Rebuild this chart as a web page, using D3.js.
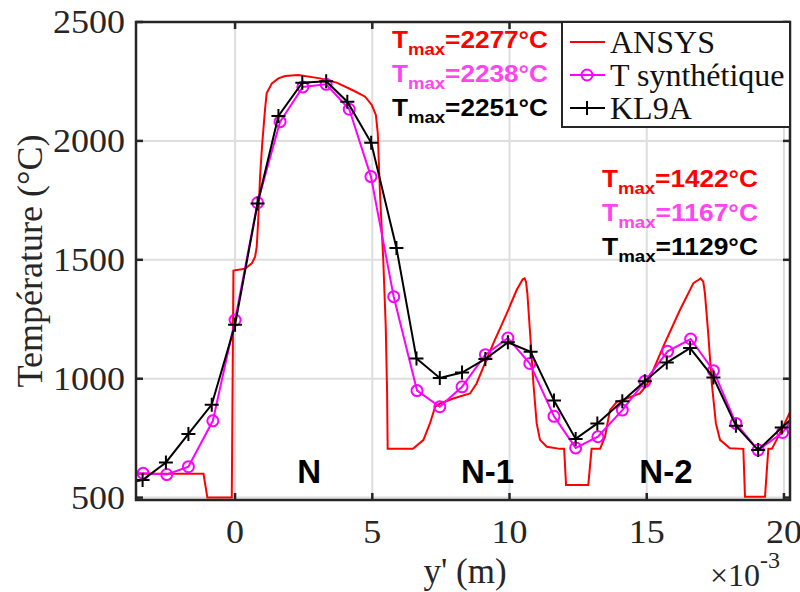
<!DOCTYPE html>
<html>
<head>
<meta charset="utf-8">
<script src="https://cdn.jsdelivr.net/npm/d3@7"></script>
<style>
body { margin: 0; background: #fff; }
</style>
</head>
<body>
<div id="chart"></div>
<script>
// tick values
var xTicks = [0, 5, 10, 15, 20];
var yTicks = [500, 1000, 1500, 2000, 2500];

// ANSYS (red)
var ansysX = [-3.7, -1.15, -1.01, -0.12, -0.06, 0.36, 0.61, 0.73, 0.79, 0.85, 0.91, 0.99, 1.09, 1.15, 1.34, 1.58, 1.82, 2.3, 3.10, 3.70,
  4.31, 4.74, 4.98, 5.13, 5.20, 5.28, 5.40, 5.49, 5.54, 5.56, 6.48, 6.86, 7.10, 7.29, 7.47, 7.95, 8.56, 8.80, 9.05, 9.41, 9.90,
  10.26, 10.48, 10.55, 10.60, 10.65, 10.75, 10.87, 10.99, 11.11, 11.36, 11.84, 11.99, 12.06, 12.87, 12.99, 13.30, 13.48, 13.66,
  13.91, 14.27, 14.75, 15.0, 15.24, 15.60, 16.21, 16.70, 16.92, 16.96, 17.06, 17.12, 17.24, 17.37, 17.52, 17.67, 18.03, 18.52,
  18.58, 19.31, 19.43, 19.56, 19.73, 19.97, 20.34];
var ansysY = [600, 600, 500, 500, 1455, 1462, 1485, 1513, 1555, 1681, 1849, 1990, 2130, 2200, 2242, 2263, 2273, 2277, 2263, 2245,
  2212, 2186, 2151, 2109, 2032, 1780, 1499, 1219, 939, 705, 705, 742, 812, 882, 896, 917, 938, 980, 1050, 1149, 1275,
  1373, 1418, 1422, 1408, 1359, 1191, 981, 812, 743, 714, 705, 705, 553, 553, 705, 705, 756, 868,
  903, 917, 938, 973, 1037, 1135, 1289, 1402, 1418, 1422, 1408, 1359, 1191, 981, 812, 743, 708, 705,
  504, 504, 705, 705, 743, 798, 889];

// T synthetique (magenta, circles)
var synthX = [-4.2, -3.35, -2.49, -1.70, -0.81, 0, 0.82, 1.64, 2.47, 3.32, 4.16, 4.95, 5.78, 6.63, 7.46, 8.27, 9.12, 9.94,
  10.74, 11.62, 12.41, 13.22, 14.11, 14.93, 15.76, 16.6, 17.43, 18.25, 19.06, 19.95, 20.77];
var synthY = [602, 602, 597, 630, 823, 1247, 1740, 2081, 2227, 2238, 2133, 1850, 1345, 950, 882, 966, 1101, 1171,
  1064, 842, 709, 756, 868, 989, 1115, 1167, 1034, 812, 700, 774, 905];

// KL9A (black, plus)
var kl9aX = [-4.2, -3.37, -2.52, -1.70, -0.85, 0, 0.82, 1.58, 2.45, 3.32, 4.09, 4.96, 5.88, 6.61, 7.46, 8.27, 9.12, 9.94,
  10.77, 11.62, 12.41, 13.2, 14.11, 14.93, 15.73, 16.58, 17.43, 18.25, 19.06, 19.92, 20.77];
var kl9aY = [555, 574, 648, 768, 891, 1227, 1737, 2105, 2245, 2251, 2165, 1992, 1550, 1085, 1003, 1026, 1083, 1153,
  1113, 908, 747, 812, 905, 989, 1068, 1129, 1005, 802, 700, 795, 880];

var seriesNames = ["ANSYS", "T synthétique", "KL9A"];
var tmaxLeft = ["2277", "2238", "2251"];
var tmaxRight = ["1422", "1167", "1129"];
var zoneNames = ["N", "N-1", "N-2"];
var zoneX = [2.7, 9.2, 15.7];

var W = 800, H = 592;
var pL = 136, pR = 790, pT = 22, pB = 500;
var axisCol = "#262626";

var svg = d3.select("#chart").append("svg")
  .attr("width", W)
  .attr("height", H);

var x = d3.scaleLinear().domain([-3.61, 20.22]).range([pL, pR]);
var y = d3.scaleLinear().domain([490, 2500]).range([pB, pT]);

// grid
svg.append("g").selectAll("line").data(xTicks).enter().append("line")
  .attr("x1", d => x(d)).attr("x2", d => x(d))
  .attr("y1", pT).attr("y2", pB)
  .style("stroke", "#dedede").style("stroke-width", 2);
svg.append("g").selectAll("line").data(yTicks).enter().append("line")
  .attr("x1", pL).attr("x2", pR)
  .attr("y1", d => y(d)).attr("y2", d => y(d))
  .style("stroke", "#dedede").style("stroke-width", 2);

svg.append("clipPath").attr("id", "plot")
  .append("rect").attr("x", pL).attr("y", pT)
  .attr("width", pR - pL).attr("height", pB - pT);

var plot = svg.append("g").attr("clip-path", "url(#plot)");
var line = d3.line().x(d => x(d[0])).y(d => y(d[1]));

var ansys = d3.zip(ansysX, ansysY);
var synth = d3.zip(synthX, synthY);
var kl9a = d3.zip(kl9aX, kl9aY);

plot.append("path").datum(ansys).attr("d", line)
  .style("fill", "none").style("stroke", "#ff0000").style("stroke-width", 2);

plot.append("path").datum(synth).attr("d", line)
  .style("fill", "none").style("stroke", "#ff00ff").style("stroke-width", 2);
plot.selectAll(".circ").data(synth).enter().append("circle")
  .attr("class", "circ")
  .attr("cx", d => x(d[0])).attr("cy", d => y(d[1])).attr("r", 5.5)
  .style("fill", "none").style("stroke", "#ff00ff").style("stroke-width", 2);

plot.append("path").datum(kl9a).attr("d", line)
  .style("fill", "none").style("stroke", "#000").style("stroke-width", 2);
function plus(sel, cx, cy) {
  sel.append("path")
    .attr("d", "M" + (cx - 7) + "," + cy + "H" + (cx + 7) + "M" + cx + "," + (cy - 7) + "V" + (cy + 7))
    .style("stroke", "#000").style("stroke-width", 2);
}
kl9a.forEach(function (d) { plus(plot, x(d[0]), y(d[1])); });

// zone labels
svg.append("g").selectAll("text").data(zoneNames).enter().append("text")
  .attr("x", (d, i) => x(zoneX[i])).attr("y", 483)
  .attr("text-anchor", "middle")
  .style("font-family", "Liberation Sans, Arial, sans-serif")
  .style("font-weight", "bold").style("font-size", "33px")
  .text(d => d);

// box + ticks
svg.append("rect").attr("x", pL).attr("y", pT)
  .attr("width", pR - pL).attr("height", pB - pT)
  .style("fill", "none").style("stroke", axisCol).style("stroke-width", 2.5);
var tk = svg.append("g").style("stroke", axisCol).style("stroke-width", 2.5);
xTicks.forEach(function (t) {
  tk.append("line").attr("x1", x(t)).attr("x2", x(t)).attr("y1", pB).attr("y2", pB - 7);
  tk.append("line").attr("x1", x(t)).attr("x2", x(t)).attr("y1", pT).attr("y2", pT + 7);
});
yTicks.forEach(function (t) {
  tk.append("line").attr("x1", pL).attr("x2", pL + 7).attr("y1", y(t)).attr("y2", y(t));
  tk.append("line").attr("x1", pR).attr("x2", pR - 7).attr("y1", y(t)).attr("y2", y(t));
});

var serif = "Liberation Serif, Times New Roman, serif";
svg.append("g").selectAll("text").data(xTicks).enter().append("text")
  .attr("x", d => x(d)).attr("y", 543)
  .attr("text-anchor", "middle")
  .attr("textLength", d => String(d).length * 18).attr("lengthAdjust", "spacingAndGlyphs")
  .style("font-family", serif).style("font-size", "33px").style("fill", axisCol)
  .text(d => d);
svg.append("g").selectAll("text").data(yTicks).enter().append("text")
  .attr("x", 125).attr("y", d => y(d)).attr("dy", "0.34em")
  .attr("text-anchor", "end")
  .attr("textLength", d => String(d).length * 18).attr("lengthAdjust", "spacingAndGlyphs")
  .style("font-family", serif).style("font-size", "33px").style("fill", axisCol)
  .text(d => d);

svg.append("text")
  .attr("transform", "translate(42,261) rotate(-90)")
  .attr("text-anchor", "middle")
  .style("font-family", serif).style("font-size", "36px").style("fill", axisCol)
  .text("Température (°C)");
svg.append("text")
  .attr("x", 465).attr("y", 583)
  .attr("text-anchor", "middle")
  .style("font-family", serif).style("font-size", "35px").style("fill", axisCol)
  .text("y' (m)");
var ex = svg.append("text").attr("x", 710).attr("y", 586)
  .style("font-family", serif).style("font-size", "32px").style("fill", axisCol);
ex.append("tspan").text("×10");
ex.append("tspan").attr("dy", -18).style("font-size", "24px").text("-3");

// Tmax annotations
var annColors = ["#ff0000", "#ff44f0", "#000000"];
function tmax(x0, y0, vals) {
  vals.forEach(function (v, i) {
    var t = svg.append("text").attr("x", x0).attr("y", y0 + i * 34)
      .attr("textLength", 156).attr("lengthAdjust", "spacingAndGlyphs")
      .style("font-family", "Liberation Sans, Arial, sans-serif")
      .style("font-weight", "bold").style("font-size", "24px")
      .style("fill", annColors[i]);
    t.append("tspan").text("T");
    t.append("tspan").attr("dy", 7).style("font-size", "17px").text("max");
    t.append("tspan").attr("dy", -7).text("=" + v + "°C");
  });
}
tmax(392, 48, tmaxLeft);
tmax(602, 187, tmaxRight);

// legend
var lg = svg.append("g");
lg.append("rect").attr("x", 562).attr("y", pT).attr("width", pR - 562).attr("height", 105)
  .style("fill", "#fff").style("stroke", axisCol).style("stroke-width", 2);
var lgY = [42, 75, 108];
var lgCol = ["#ff0000", "#ff00ff", "#000"];
seriesNames.forEach(function (n, i) {
  lg.append("line").attr("x1", 570).attr("x2", 605).attr("y1", lgY[i]).attr("y2", lgY[i])
    .style("stroke", lgCol[i]).style("stroke-width", 2);
  if (i === 1) {
    lg.append("circle").attr("cx", 587).attr("cy", lgY[i]).attr("r", 5.5)
      .style("fill", "none").style("stroke", lgCol[i]).style("stroke-width", 2);
  }
  if (i === 2) plus(lg, 587, lgY[i]);
  lg.append("text").attr("x", 610).attr("y", lgY[i]).attr("dy", "0.33em")
    .style("font-family", serif).style("font-size", "32px").style("fill", "#111")
    .text(n);
});
</script>
</body>
</html>
